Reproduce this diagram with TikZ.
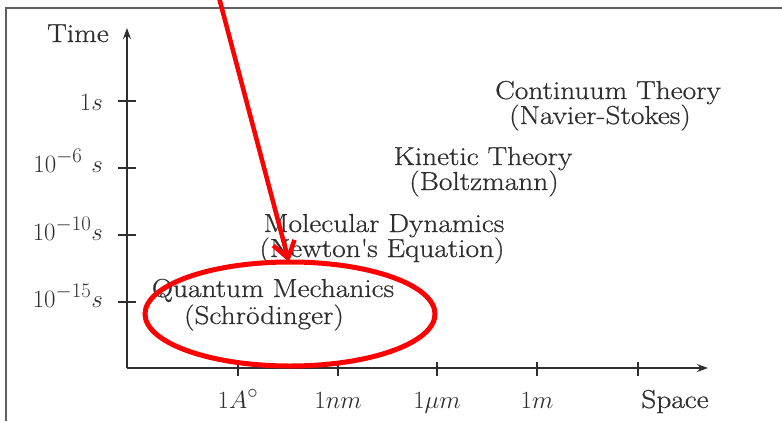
\documentclass[tikz,border=0pt]{standalone}
\usepackage[no-math]{fontspec}
\setmainfont{Latin Modern Roman}[FakeStretch=1.13,FakeBold=0.7]
\DeclareMathSizes{26}{26}{22}{16}
\usetikzlibrary{arrows.meta,shapes.geometric}
\definecolor{ink}{HTML}{2E2E2E}
\definecolor{framec}{HTML}{606060}
\definecolor{hlred}{HTML}{FF0000}
\begin{document}
\begin{tikzpicture}[x=1pt,y=-1pt,
  lbl/.style={inner sep=0pt,text=ink,font=\fontsize{26}{26}\selectfont},
  mlbl/.style={inner sep=0pt,text=ink,font=\fontsize{26}{26}\selectfont},
  axis/.style={draw=ink,line width=1.3pt},
  tick/.style={draw=ink,line width=1.3pt},
  redline/.style={draw=hlred,line width=4.5pt}]
\useasboundingbox (0,0) rectangle (782,421);
% frame
\draw[framec,line width=1.8pt] (6,421) -- (6,8) -- (782,8);
% axes
\coordinate (O) at (127,368);
\coordinate (ytop) at (127,28);
\coordinate (xend) at (708,368);
\draw[axis,-{Stealth[length=11pt,width=8pt]}] (O) -- (ytop);
\draw[axis,-{Stealth[length=11pt,width=8pt]}] (O) -- (xend);
% y ticks
\foreach \y in {101,168,235,302} \draw[tick] (118,\y) -- (136,\y);
% x ticks
\foreach \x in {238,338,437,537,638} \draw[tick] (\x,362) -- (\x,376);
% axis labels
\node[lbl,anchor=base] (time) at (78,42) {Time};
\node[lbl,anchor=base] (space) at (675,408) {Space};
\node[mlbl,anchor=base east] (t1) at (103,110) {$1s$};
\node[mlbl,anchor=base east] (t2) at (103,172) {$10^{-6}\ s$};
\node[mlbl,anchor=base east] (t3) at (103,240) {$10^{-10}s$};
\node[mlbl,anchor=base east] (t4) at (103,307) {$10^{-15}s$};
\node[mlbl,anchor=base] (s1) at (238,408) {$1A^{\circ}$};
\node[mlbl,anchor=base] (s2) at (338,408) {$1nm$};
\node[mlbl,anchor=base] (s3) at (437,408) {$1\mu m$};
\node[mlbl,anchor=base] (s4) at (537,408) {$1m$};
% regimes
\node[lbl,anchor=base] (cont) at (608,99) {Continuum Theory};
\node[lbl,anchor=base] (navier) at (600,124) {(Navier-Stokes)};
\node[lbl,anchor=base] (kin) at (483,165) {Kinetic Theory};
\node[lbl,anchor=base] (boltz) at (484,190) {(Boltzmann)};
\node[lbl,anchor=base] (mol) at (384,232) {Molecular Dynamics};
\node[lbl,anchor=base] (newton) at (382,257) {(Newton\textquotesingle s Equation)};
\node[lbl,anchor=base] (quant) at (273,297) {Quantum Mechanics};
\node[lbl,anchor=base] (schr) at (264,324) {(Schrödinger)};
% red highlight
\node[draw=hlred,line width=5pt,ellipse,minimum width=290pt,minimum height=104pt,inner sep=0pt] (ell) at (290,314) {};
\coordinate (start) at (217,-10);
\coordinate (tip) at (289,262);
\draw[redline,-{Straight Barb[length=16pt,width=22pt]}] (start) -- (tip);
\end{tikzpicture}
\end{document}
